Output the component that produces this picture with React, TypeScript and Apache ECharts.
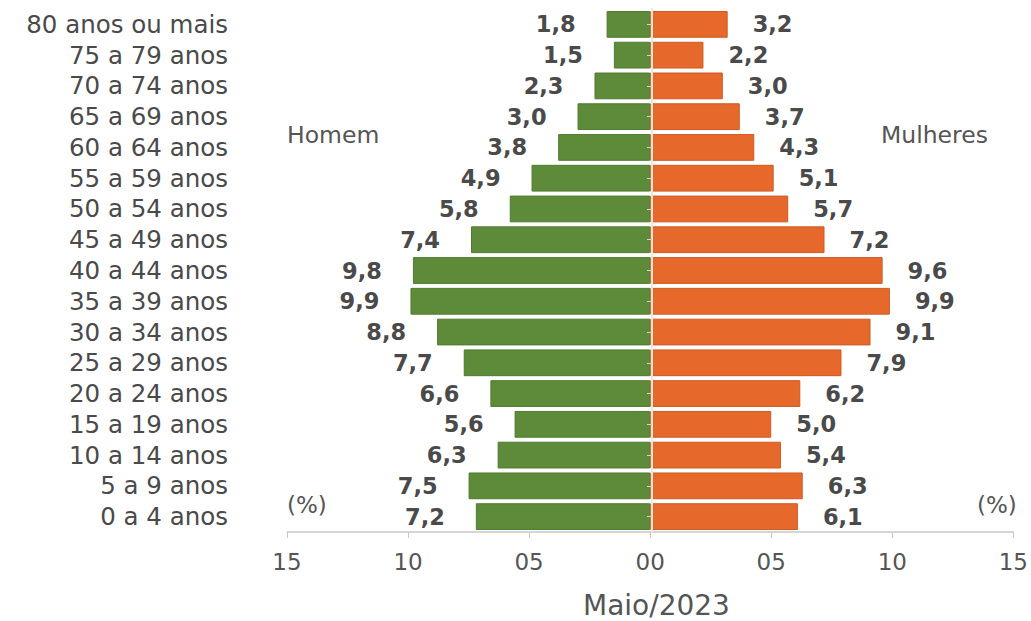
import React, { useEffect, useRef } from "react";
import * as echarts from "echarts";

const categories = [
  "0 a 4 anos", "5 a 9 anos", "10 a 14 anos", "15 a 19 anos", "20 a 24 anos",
  "25 a 29 anos", "30 a 34 anos", "35 a 39 anos", "40 a 44 anos", "45 a 49 anos",
  "50 a 54 anos", "55 a 59 anos", "60 a 64 anos", "65 a 69 anos", "70 a 74 anos",
  "75 a 79 anos", "80 anos ou mais",
];
const homens = [7.2, 7.5, 6.3, 5.6, 6.6, 7.7, 8.8, 9.9, 9.8, 7.4, 5.8, 4.9, 3.8, 3.0, 2.3, 1.5, 1.8];
const mulheres = [6.1, 6.3, 5.4, 5.0, 6.2, 7.9, 9.1, 9.9, 9.6, 7.2, 5.7, 5.1, 4.3, 3.7, 3.0, 2.2, 3.2];
const xTicks = [-15, 15];

const FONT = "DejaVu Sans";
const fmt = (v: number) => Math.abs(v).toFixed(1).replace(".", ",");

export default function App() {
  const ref = useRef<HTMLDivElement>(null);
  useEffect(() => {
    if (!ref.current) return;
    const chart = echarts.init(ref.current, null, { renderer: "svg" });
    const gridLeft = 287;
    const gridRight = 14;
    const half = (1031 - gridLeft - gridRight) / 2;
    chart.setOption({
      animation: false,
      grid: { left: gridLeft, right: gridRight, top: 9, bottom: 89, containLabel: false },
      xAxis: {
        type: "value",
        min: xTicks[0],
        max: xTicks[1],
        interval: 5,
        axisLine: { show: true, lineStyle: { color: "#c8c8c8", width: 1.5 } },
        axisTick: { show: true, length: 6, lineStyle: { color: "#c8c8c8" } },
        splitLine: { show: false },
        axisLabel: {
          margin: 18,
          fontFamily: FONT,
          fontSize: 23,
          color: "#555",
          formatter: (v: number) => String(Math.abs(v)).padStart(2, "0"),
        },
      },
      yAxis: [
        {
          type: "category",
          data: categories,
          axisLine: { show: false },
          axisTick: { show: false },
          axisLabel: { interval: 0, margin: 59, fontFamily: FONT, fontSize: 24.5, color: "#4a4a4a" },
        },
        {
          type: "category",
          data: categories,
          position: "left",
          offset: -half,
          axisLine: { show: true, onZero: false, lineStyle: { color: "#ece6d6", width: 2 } },
          axisTick: { show: true, interval: 0, alignWithLabel: true, length: 5, lineStyle: { color: "#cfd8c4" } },
          axisLabel: { show: false },
          z: 10,
        },
      ],
      series: [
        {
          name: "Homem",
          type: "bar",
          data: homens.map((v) => -v),
          barCategoryGap: "13%",
          barGap: "-100%",
          itemStyle: { color: "#5d8b39", borderColor: "#4f7a2f", borderWidth: 1 },
          label: {
            show: true,
            position: "left",
            distance: 31,
            formatter: (p: any) => fmt(p.value),
            fontFamily: FONT,
            fontWeight: "bold",
            fontSize: 22.5,
            color: "#4a4a4a",
          },
        },
        {
          name: "Mulheres",
          type: "bar",
          data: mulheres,
          barCategoryGap: "13%",
          barGap: "-100%",
          itemStyle: { color: "#e6692b", borderColor: "#cc5a22", borderWidth: 1 },
          label: {
            show: true,
            position: "right",
            distance: 25,
            formatter: (p: any) => fmt(p.value),
            fontFamily: FONT,
            fontWeight: "bold",
            fontSize: 22.5,
            color: "#4a4a4a",
          },
        },
      ],
      graphic: [
        { type: "text", left: 287, top: 123, style: { text: "Homem", font: `23.5px "${FONT}"`, fill: "#555" } },
        { type: "text", left: 881, top: 123, style: { text: "Mulheres", font: `23.5px "${FONT}"`, fill: "#555" } },
        { type: "text", left: 287, top: 493, style: { text: "(%)", font: `23px "${FONT}"`, fill: "#555" } },
        { type: "text", left: 977, top: 493, style: { text: "(%)", font: `23px "${FONT}"`, fill: "#555" } },
        { type: "text", left: 583, top: 591, style: { text: "Maio/2023", font: `28px "${FONT}"`, fill: "#555" } },
      ],
    });
    return () => chart.dispose();
  }, []);
  return (
    <div
      ref={ref}
      style={{ position: "fixed", left: 0, top: 0, width: 1031, height: 621, background: "#fff" }}
    />
  );
}
